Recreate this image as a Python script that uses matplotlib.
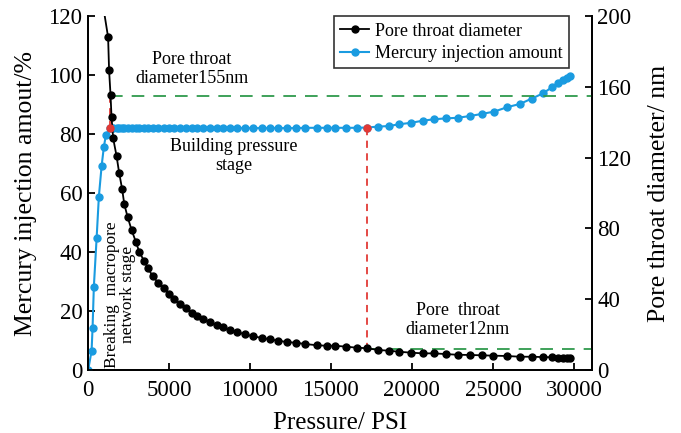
import numpy as np
import matplotlib.pyplot as plt

plt.rcParams['font.family'] = ['Liberation Serif', 'DejaVu Serif']

# ---------------- data ----------------
# mercury injection amount (%), left axis
p_hg = [20, 230, 290, 370, 540, 680, 850, 990, 1110, 1360,
        1460, 1560, 1770, 1930, 2120, 2250, 2450, 2700, 2960, 3170,
        3460, 3720, 3990, 4340, 4690, 5020, 5310, 5680, 6050, 6400,
        6750, 7120, 7530, 7940, 8350, 8770, 9220, 9690, 10170, 10720,
        11230, 11750, 12260, 12840, 13400, 14120, 14730, 15250, 15930, 16590,
        17250, 17880, 18560, 19210, 19940, 20660, 21360, 22100, 22820, 23580,
        24300, 25080, 25880, 26670, 27390, 28100, 28620, 29030, 29340, 29590,
        29750]
hg = [0.0, 6.5, 14.1, 28.2, 44.6, 58.8, 69.2, 75.7, 79.5, 82.2,
      82.0, 82.0, 82.0, 82.0, 82.0, 82.0, 82.0, 82.0, 82.0, 82.0,
      82.0, 82.0, 82.0, 82.0, 82.0, 82.0, 82.0, 82.0, 82.0, 82.0,
      82.0, 82.0, 82.0, 82.0, 82.0, 82.0, 82.0, 82.0, 82.0, 82.0,
      82.0, 82.0, 82.0, 82.0, 82.1, 82.1, 82.1, 82.1, 82.1, 82.1,
      82.2, 82.5, 82.7, 83.3, 83.8, 84.5, 85.0, 85.3, 85.5, 86.1,
      86.8, 87.6, 89.1, 90.2, 92.0, 93.8, 95.8, 97.4, 98.3, 99.1,
      99.7]

# pore throat diameter (nm), right axis
p_pt = [800, 1250, 1310, 1400, 1460, 1560, 1770, 1930, 2120, 2250,
        2450, 2700, 2960, 3170, 3460, 3720, 3990, 4340, 4690, 5020,
        5310, 5680, 6050, 6400, 6750, 7120, 7530, 7940, 8350, 8770,
        9220, 9690, 10170, 10720, 11230, 11750, 12260, 12840, 13400, 14120,
        14730, 15250, 15930, 16590, 17240, 17920, 18600, 19220, 19940, 20660,
        21360, 22100, 22820, 23580, 24300, 25020, 25880, 26670, 27390, 28100,
        28620, 29030, 29340, 29590, 29750]
pt = [214, 188, 169.5, 155.4, 143, 131, 121, 111.5, 102, 93.6,
      86.6, 79.1, 72.5, 66.8, 61.8, 57.5, 53.1, 49.3, 46.2, 42.8,
      39.9, 37.1, 34.9, 32.4, 30.5, 28.6, 26.9, 25.4, 24.1, 22.6,
      21.3, 20.3, 19.0, 18.2, 17.3, 16.6, 15.8, 15.4, 14.7, 14.0,
      13.7, 13.7, 13.2, 12.6, 12.3, 11.3, 10.9, 10.3, 9.8, 9.4,
      9.4, 9.0, 8.6, 8.5, 8.3, 8.1, 7.9, 7.5, 7.5, 7.3,
      7.2, 6.9, 6.9, 6.9, 6.9]

# stage markers
p_break = 1360      # end of breaking macropore network stage
p_build = 17250     # end of building pressure stage
d_high = 155
d_low = 12
hg_flat = 82.2

blue = '#1a9be0'
green = '#2f9a4c'
red = '#e23a36'

fig = plt.figure(figsize=(6.81, 4.33), dpi=100)
ax = fig.add_axes([0.129, 0.1455, 0.74, 0.8175])
ax2 = ax.twinx()

l2, = ax.plot(p_hg, hg, '-o', color=blue, lw=1.5, ms=5, zorder=3,
              label='Mercury injection amount')
l1, = ax2.plot(p_pt, pt, '-o', color='black', lw=1.3, ms=5, zorder=3,
               label='Pore throat diameter')

# guide lines (right axis units)
k = 200 / 120.
ax2.plot([p_break, 31100], [d_high, d_high], '--', color=green, lw=1.3, dashes=(7, 5))
ax2.plot([p_build, 31100], [d_low, d_low], '--', color=green, lw=1.3, dashes=(7, 5))
ax2.plot([p_break, p_break], [hg_flat * k, d_high], '--', color=red, lw=1.3, dashes=(4, 3))
ax2.plot([p_build, p_build], [hg_flat * k, d_low], '--', color=red, lw=1.3, dashes=(4, 3))
ax2.plot([p_break, p_build], [hg_flat * k, hg_flat * k], 'o', color=red, ms=5, zorder=5)

ax.set_xlim(0, 31100)
ax.set_ylim(0, 120)
ax2.set_ylim(0, 200)
ax.set_xticks(np.arange(0, 30001, 5000))
ax.set_yticks(np.arange(0, 121, 20))
ax2.set_yticks(np.arange(0, 201, 40))

for a in (ax, ax2):
    a.spines['top'].set_visible(False)
    for s in a.spines.values():
        s.set_linewidth(1.3)
    a.tick_params(direction='in', length=5, width=1.3, labelsize=16.5, pad=4)
ax.tick_params(axis='x', pad=7)

ax.set_xlabel('Pressure/ PSI', fontsize=18, labelpad=8)
ax.set_ylabel('Mercury injection amout/%', fontsize=18.5, labelpad=8)
ax2.set_ylabel('Pore throat diameter/ nm', fontsize=18.5, labelpad=12)

ax.text(6400, 102, 'Pore throat\ndiameter155nm', fontsize=13, ha='center', va='center',
        linespacing=1.2)
ax.text(9000, 72.5, 'Building pressure\nstage', fontsize=13, ha='center', va='center',
        linespacing=1.2)
ax.text(2000, 25.5, 'Breaking  macropore\nnetwork stage', fontsize=12.5, ha='center',
        va='center', rotation=90, linespacing=1.0)
ax.text(22840, 17, 'Pore  throat\ndiameter12nm', fontsize=13, ha='center', va='center',
        linespacing=1.2)

leg = ax2.legend(handles=[l1, l2], loc='upper right', bbox_to_anchor=(0.972, 1.025),
                 fontsize=13, frameon=True, fancybox=False, edgecolor='black',
                 handlelength=1.6, handletextpad=0.3, borderpad=0.35, labelspacing=0.3)
leg.get_frame().set_linewidth(1.2)

fig.savefig('out.png', dpi=100)
